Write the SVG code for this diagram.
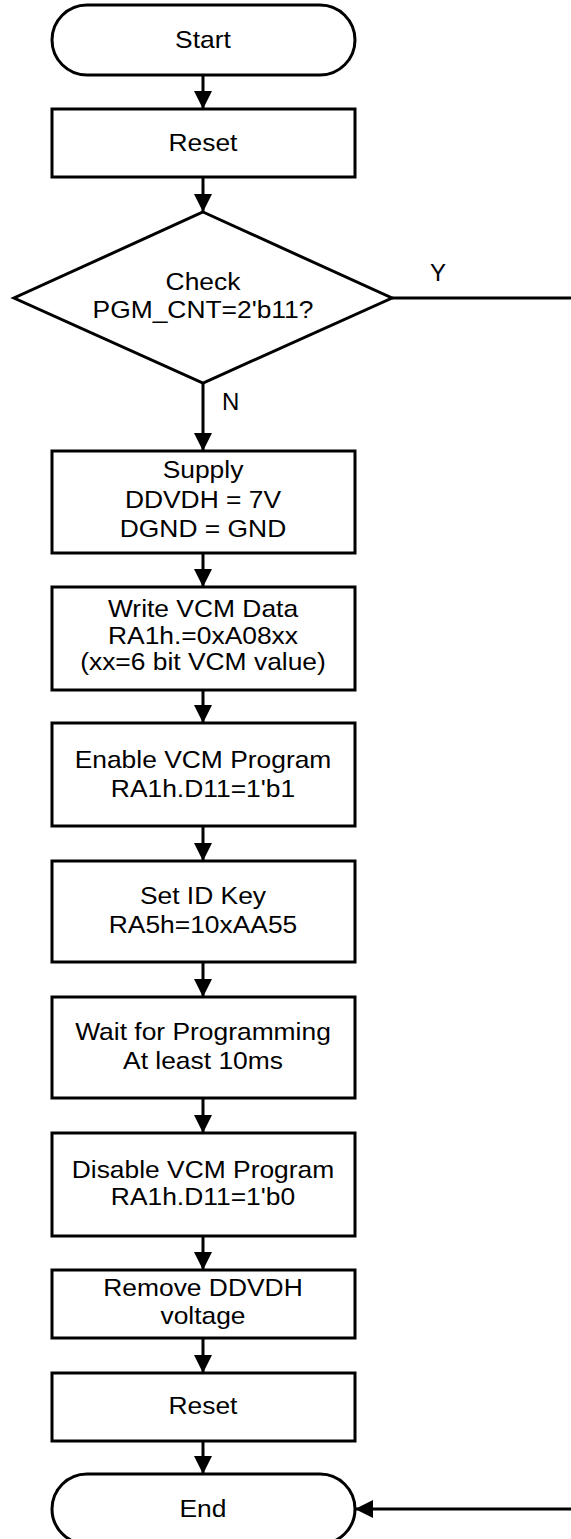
<svg xmlns="http://www.w3.org/2000/svg" width="571" height="1539" viewBox="0 0 571 1539">
<style>
.shape{fill:#fff;stroke:#000;stroke-width:3}
.conn{fill:none;stroke:#000;stroke-width:3}
text{font-family:"Liberation Sans",Arial,sans-serif;font-size:24px;fill:#000}
.c{text-anchor:middle}
</style>
<defs>
<marker id="arr" markerUnits="userSpaceOnUse" viewBox="0 0 18 18" refX="18" refY="9" markerWidth="18" markerHeight="18" orient="auto">
<path d="M0 0 L18 9 L0 18 z" fill="#000"/>
</marker>
</defs>
<rect width="571" height="1539" fill="#fff"/>
<g id="connectors">
<line class="conn" x1="203" y1="75" x2="203" y2="109" marker-end="url(#arr)"/>
<line class="conn" x1="203" y1="177" x2="203" y2="212" marker-end="url(#arr)"/>
<line class="conn" x1="203" y1="383" x2="203" y2="451" marker-end="url(#arr)"/>
<line class="conn" x1="203" y1="553" x2="203" y2="587" marker-end="url(#arr)"/>
<line class="conn" x1="203" y1="690" x2="203" y2="723" marker-end="url(#arr)"/>
<line class="conn" x1="203" y1="826" x2="203" y2="861" marker-end="url(#arr)"/>
<line class="conn" x1="203" y1="962" x2="203" y2="997" marker-end="url(#arr)"/>
<line class="conn" x1="203" y1="1098" x2="203" y2="1133" marker-end="url(#arr)"/>
<line class="conn" x1="203" y1="1236" x2="203" y2="1270" marker-end="url(#arr)"/>
<line class="conn" x1="203" y1="1338" x2="203" y2="1373" marker-end="url(#arr)"/>
<line class="conn" x1="203" y1="1441" x2="203" y2="1474" marker-end="url(#arr)"/>
<path class="conn" d="M392 298 H600 V1509 H355" marker-end="url(#arr)"/>
<text x="430" y="281">Y</text>
<text x="222" y="410">N</text>
</g>
<g id="start">
<rect class="shape" x="52" y="5" width="303" height="70" rx="35"/>
<g transform="matrix(1.1 0 0 1 -20.3 0)"><text class="c" x="203" y="48.5">Start</text></g>
</g>
<g id="reset1">
<rect class="shape" x="52" y="109" width="303" height="68"/>
<g transform="matrix(1.1 0 0 1 -20.3 0)"><text class="c" x="203" y="151.5">Reset</text></g>
</g>
<g id="check">
<polygon class="shape" points="203,212 392,298 203,383 14,298"/>
<g transform="matrix(1.1 0 0 1 -20.3 0)"><text class="c" x="203" y="290">Check</text><text class="c" x="203" y="318.5">PGM_CNT=2'b11?</text></g>
</g>
<g id="supply">
<rect class="shape" x="52" y="451" width="303" height="102"/>
<g transform="matrix(1.1 0 0 1 -20.3 0)"><text class="c" x="203" y="478.5">Supply</text><text class="c" x="203" y="508">DDVDH = 7V</text><text class="c" x="203" y="537.5">DGND = GND</text></g>
</g>
<g id="writevcm">
<rect class="shape" x="52" y="587" width="303" height="103"/>
<g transform="matrix(1.1 0 0 1 -20.3 0)"><text class="c" x="203" y="617">Write VCM Data</text><text class="c" x="203" y="644">RA1h.=0xA08xx</text><text class="c" x="203" y="670.5">(xx=6 bit VCM value)</text></g>
</g>
<g id="enable">
<rect class="shape" x="52" y="723" width="303" height="103"/>
<g transform="matrix(1.1 0 0 1 -20.3 0)"><text class="c" x="203" y="768.5">Enable VCM Program</text><text class="c" x="203" y="797.5">RA1h.D11=1'b1</text></g>
</g>
<g id="setid">
<rect class="shape" x="52" y="861" width="303" height="101"/>
<g transform="matrix(1.1 0 0 1 -20.3 0)"><text class="c" x="203" y="904.5">Set ID Key</text><text class="c" x="203" y="933.5">RA5h=10xAA55</text></g>
</g>
<g id="wait">
<rect class="shape" x="52" y="997" width="303" height="101"/>
<g transform="matrix(1.1 0 0 1 -20.3 0)"><text class="c" x="203" y="1040.5">Wait for Programming</text><text class="c" x="203" y="1069.5">At least 10ms</text></g>
</g>
<g id="disable">
<rect class="shape" x="52" y="1133" width="303" height="103"/>
<g transform="matrix(1.1 0 0 1 -20.3 0)"><text class="c" x="203" y="1178.5">Disable VCM Program</text><text class="c" x="203" y="1205.5">RA1h.D11=1'b0</text></g>
</g>
<g id="remove">
<rect class="shape" x="52" y="1270" width="303" height="68"/>
<g transform="matrix(1.1 0 0 1 -20.3 0)"><text class="c" x="203" y="1296.5">Remove DDVDH</text><text class="c" x="203" y="1324.5">voltage</text></g>
</g>
<g id="reset2">
<rect class="shape" x="52" y="1373" width="303" height="68"/>
<g transform="matrix(1.1 0 0 1 -20.3 0)"><text class="c" x="203" y="1414.5">Reset</text></g>
</g>
<g id="end">
<rect class="shape" x="52" y="1474" width="303" height="70" rx="35"/>
<g transform="matrix(1.1 0 0 1 -20.3 0)"><text class="c" x="203" y="1517.5">End</text></g>
</g>
</svg>
